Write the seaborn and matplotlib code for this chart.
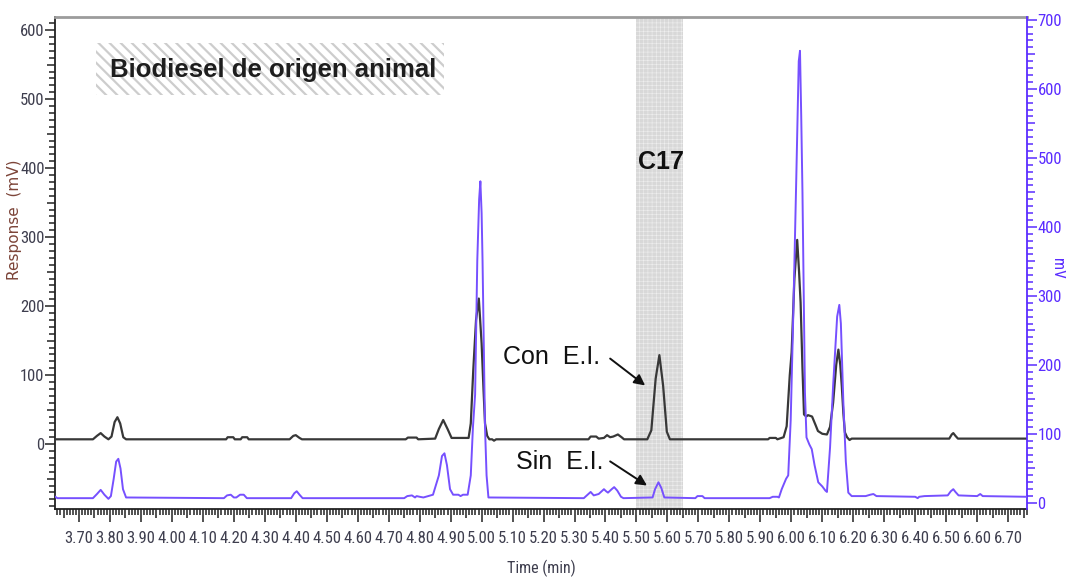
import numpy as np
import pandas as pd
import matplotlib
matplotlib.use("Agg")
import matplotlib.pyplot as plt
from matplotlib import font_manager
from matplotlib.font_manager import FontProperties
from matplotlib.ticker import MultipleLocator, FixedLocator, FixedFormatter
from matplotlib.patches import Rectangle
import seaborn as sns

# --- chromatogram with internal standard (left axis, Response mV) ---
con_time = [3.620, 3.745, 3.758, 3.770, 3.782, 3.795, 3.805, 3.815, 3.824, 3.833, 3.843, 3.852,
            4.175, 4.180, 4.198, 4.203, 4.222, 4.227, 4.243, 4.248,
            4.380, 4.392, 4.400, 4.412, 4.420,
            4.755, 4.762, 4.790, 4.795,
            4.850, 4.862, 4.876, 4.890, 4.903,
            4.958, 4.965, 4.973, 4.982, 4.991, 5.000, 5.006, 5.011, 5.018, 5.025,
            5.034, 5.040, 5.047,
            5.345, 5.352, 5.370, 5.378, 5.395, 5.405, 5.415, 5.425, 5.440, 5.452, 5.460,
            5.535, 5.548, 5.562, 5.574, 5.586, 5.598, 5.608,
            5.925, 5.930, 5.950, 5.955,
            5.975, 5.985, 5.995, 6.001, 6.010, 6.019, 6.025, 6.030, 6.036, 6.041, 6.048,
            6.054, 6.067, 6.078, 6.086, 6.100, 6.115, 6.125, 6.135, 6.145, 6.152, 6.158,
            6.163, 6.168, 6.173, 6.180, 6.188, 6.195,
            6.510, 6.518, 6.523, 6.530, 6.538, 6.760]
con_resp = [7, 7, 12, 16, 11, 7, 11, 32, 39, 30, 10, 7,
            7, 10, 10, 7, 7, 10, 10, 7,
            7, 12, 13, 9, 7,
            7, 9.5, 9.5, 7,
            8, 22, 35, 22, 9,
            9, 30, 107, 180, 211, 146, 80, 30, 12, 7,
            7, 5, 7,
            7, 11, 11, 8, 9, 13, 10, 11, 14, 10, 7,
            7, 20, 95, 129, 85, 18, 7,
            7, 9, 9, 7,
            10, 26, 100, 133, 240, 296, 250, 205, 110, 43, 40,
            42, 40, 28, 19, 15, 14, 25, 60, 115, 137, 115,
            84, 45, 17, 10, 6, 8,
            8, 14, 16, 12, 8, 8]

# --- chromatogram without internal standard (right axis, mV) ---
sin_time = [3.620, 3.630, 3.745, 3.758, 3.770, 3.782, 3.795, 3.803, 3.812, 3.820, 3.827, 3.834, 3.842, 3.852,
            4.168, 4.178, 4.190, 4.200, 4.208, 4.220, 4.232, 4.242,
            4.385, 4.395, 4.403, 4.412, 4.422,
            4.750, 4.760, 4.775, 4.785, 4.790, 4.800, 4.812,
            4.843, 4.862, 4.872, 4.880, 4.888, 4.898, 4.908, 4.925, 4.932, 4.940, 4.955,
            4.965, 4.972, 4.979, 4.986, 4.992, 4.996, 5.000, 5.003, 5.008, 5.011, 5.016, 5.022,
            5.330, 5.342, 5.352, 5.362, 5.378, 5.395, 5.402, 5.408, 5.420, 5.428, 5.438, 5.450, 5.458,
            5.552, 5.560, 5.571, 5.580, 5.590,
            5.690, 5.697, 5.713, 5.720,
            5.930, 5.940, 5.955, 5.960, 5.969, 5.983, 5.990, 5.998, 6.006, 6.016, 6.024, 6.028,
            6.032, 6.036, 6.040, 6.044, 6.049, 6.058, 6.066, 6.075, 6.087, 6.100, 6.110, 6.115,
            6.125, 6.135, 6.148, 6.155, 6.160, 6.168, 6.176, 6.184, 6.195,
            6.240, 6.255, 6.265, 6.275, 6.400, 6.408, 6.413, 6.430,
            6.505, 6.515, 6.523, 6.530, 6.540, 6.600, 6.610, 6.618, 6.760]
sin_resp = [10, 7, 7, 13, 19, 12, 6, 10, 35, 60, 64, 50, 20, 8,
            7, 11, 12, 8, 8, 12, 12, 7,
            7, 14, 17, 12, 7,
            7, 10, 11, 8, 10, 9, 8,
            12, 40, 68, 72, 55, 20, 12, 12, 10, 12, 12,
            40, 110, 157, 351, 440, 466, 420, 351, 200, 109, 40, 8,
            7, 12, 16, 11, 13, 20, 17, 15, 20, 23, 18, 9, 7,
            8, 20, 30, 22, 8,
            7, 10, 10, 7,
            7, 9, 9, 8, 20, 35, 40, 120, 267, 470, 640, 655,
            560, 450, 300, 160, 95, 85, 78, 55, 30, 24, 18, 16,
            80, 170, 270, 287, 260, 146, 60, 15, 10,
            10, 12, 13, 10, 9, 7, 9, 10,
            11, 17, 20, 16, 11, 10, 13, 10, 9]

left_ticks = [0, 100, 200, 300, 400, 500, 600]
right_ticks = [0, 100, 200, 300, 400, 500, 600, 700]
time_ticks = [3.70, 3.80, 3.90, 4.00, 4.10, 4.20, 4.30, 4.40, 4.50, 4.60, 4.70, 4.80, 4.90, 5.00,
              5.10, 5.20, 5.30, 5.40, 5.50, 5.60, 5.70, 5.80, 5.90, 6.00, 6.10, 6.20, 6.30, 6.40,
              6.50, 6.60, 6.70]
time_labels = ["3.70", "3.80", "3.90", "4.00", "4.10", "4.20", "4.30", "4.40", "4.50", "4.60",
               "4.70", "4.80", "4.90", "5.00", "5.10", "5.20", "5.30", "5.40", "5.50", "5.60",
               "5.70", "5.80", "5.90", "6.00", "6.10", "6.20", "6.30", "6.40", "6.50", "6.60",
               "6.70"]

BLACK = "#383838"
BLUE_LINE = "#7650ff"
BLUE_AXIS = "#5a2cff"
TICK_TXT = "#3e3e4e"


def narrow_font(size):
    """Pick a condensed sans face if one is installed, else plain Liberation Sans."""
    wanted = ("narrow", "condensed")
    cands = []
    for f in font_manager.fontManager.ttflist:
        name = (f.name + " " + f.fname).lower()
        if any(w in name for w in wanted) and f.weight in (400, "normal", "regular", "book") \
                and f.style == "normal" and "bold" not in f.fname.lower():
            cands.append(f)
    order = ["liberation sans narrow", "roboto condensed", "open sans condensed",
             "noto sans condensed", "dejavu sans condensed"]
    def rank(f):
        s = (f.name + " " + f.fname).lower()
        for i, key in enumerate(order):
            if key.replace(" ", "") in s.replace(" ", "") or key in s:
                return i
        return len(order)
    if cands:
        best = sorted(cands, key=rank)[0]
        return FontProperties(fname=best.fname, size=size), True
    return FontProperties(family=["Liberation Sans", "DejaVu Sans"], size=size - 1), False


sns.set_theme(style="white")
plt.rcParams["font.family"] = ["Liberation Sans", "DejaVu Sans"]

W, H = 1066, 578
fig = plt.figure(figsize=(W / 100, H / 100), dpi=100)
L, R, T, B = 55, 1027, 17, 509
ax = fig.add_axes([L / W, 1 - B / H, (R - L) / W, (B - T) / H])
ax2 = ax.twinx()

df_con = pd.DataFrame({"time": con_time, "mV": con_resp})
df_sin = pd.DataFrame({"time": sin_time, "mV": sin_resp})

# shaded window for the C17 internal standard
band = ax.axvspan(5.50, 5.65, facecolor="#d8d8d8", edgecolor="#efefef", hatch="++++",
                  linewidth=0, zorder=0)
if hasattr(band, "set_hatch_linewidth"):
    band.set_hatch_linewidth(0.4)

sns.lineplot(data=df_con, x="time", y="mV", ax=ax, color=BLACK, linewidth=1.6,
             estimator=None, sort=False, zorder=3)
sns.lineplot(data=df_sin, x="time", y="mV", ax=ax2, color=BLUE_LINE, linewidth=1.4,
             estimator=None, sort=False, zorder=3)

ax.set_xlim(3.6225, 6.761)
ax.set_ylim(-94, 619)
ax2.set_ylim(-8.7, 704)

for a in (ax, ax2):
    a.set_xlabel("")
    a.set_ylabel("")
    a.grid(False)

# spines
ax.spines["top"].set_color("#9c9c9c")
ax.spines["top"].set_linewidth(2.0)
ax.spines["left"].set_color("#222222")
ax.spines["left"].set_linewidth(1.3)
ax.spines["bottom"].set_color("#222222")
ax.spines["bottom"].set_linewidth(1.3)
ax.spines["right"].set_visible(False)
for s in ("top", "left", "bottom"):
    ax2.spines[s].set_visible(False)
ax2.spines["right"].set_color(BLUE_AXIS)
ax2.spines["right"].set_linewidth(1.3)

# left axis ticks
ax.yaxis.set_major_locator(FixedLocator(left_ticks))
ax.yaxis.set_major_formatter(FixedFormatter([str(v) for v in left_ticks]))
ax.yaxis.set_minor_locator(MultipleLocator(10))
ax.tick_params(axis="y", which="major", direction="out", length=7, width=1.1,
               color="#222222", labelcolor=TICK_TXT, pad=0.5, left=True)
ax.tick_params(axis="y", which="minor", direction="out", length=4, width=1.1,
               color="#222222", left=True)

# right axis ticks
ax2.yaxis.set_major_locator(FixedLocator(right_ticks))
ax2.yaxis.set_major_formatter(FixedFormatter([str(v) for v in right_ticks]))
ax2.yaxis.set_minor_locator(MultipleLocator(10))
ax2.tick_params(axis="y", which="major", direction="out", length=7, width=1.1,
                color=BLUE_AXIS, labelcolor=BLUE_AXIS, pad=0.5, right=True)
ax2.tick_params(axis="y", which="minor", direction="out", length=4, width=1.1,
                color=BLUE_AXIS, right=True)

# time axis ticks
ax.xaxis.set_major_locator(FixedLocator(time_ticks))
ax.xaxis.set_major_formatter(FixedFormatter(time_labels))
ax.xaxis.set_minor_locator(MultipleLocator(0.01))
ax.tick_params(axis="x", which="major", direction="out", length=9, width=1.1,
               color="#222222", labelcolor=TICK_TXT, pad=7, bottom=True)
ax.tick_params(axis="x", which="minor", direction="out", length=4, width=1.1,
               color="#222222", bottom=True)

tick_fp, is_narrow = narrow_font(12)
for lab in ax.get_xticklabels() + ax.get_yticklabels() + ax2.get_yticklabels():
    lab.set_fontproperties(tick_fp)

# medium-length ticks at the half steps
for loc, tick in zip(ax.yaxis.get_minorticklocs(), ax.yaxis.get_minor_ticks()):
    if int(round(loc)) % 50 == 0:
        tick.tick1line.set_markersize(6)
for loc, tick in zip(ax2.yaxis.get_minorticklocs(), ax2.yaxis.get_minor_ticks()):
    if int(round(loc)) % 50 == 0:
        tick.tick2line.set_markersize(6)
for loc, tick in zip(ax.xaxis.get_minorticklocs(), ax.xaxis.get_minor_ticks()):
    if int(round(loc * 100)) % 5 == 0:
        tick.tick1line.set_markersize(6.5)

# title box with diagonal stripes
box = Rectangle((0.0422, 0.8415), 0.358, 0.1055, transform=ax.transAxes,
                facecolor="white", edgecolor="#cdcdcd", hatch="\\\\\\", linewidth=0, zorder=1)
if hasattr(box, "set_hatch_linewidth"):
    box.set_hatch_linewidth(1.6)
ax.add_patch(box)
ax.text(0.0566, 0.892, "Biodiesel de origen animal", transform=ax.transAxes,
        ha="left", va="center", fontsize=18.5, fontweight="bold", color="#1e1e1e", zorder=5)

# annotations
ax.text(5.579, 409, "C17", ha="center", va="center", fontsize=18, fontweight="bold",
        color="#111111", zorder=5)
ax.text(5.227, 126, "Con  E.I.", ha="center", va="center", fontsize=18, color="#111111", zorder=5)
ax.text(5.253, -26, "Sin  E.I.", ha="center", va="center", fontsize=18, color="#111111", zorder=5)
arrow = dict(arrowstyle="-|>", color="#111111", lw=1.4, mutation_scale=16, shrinkA=0, shrinkB=0)
ax.annotate("", xy=(5.528, 85), xytext=(5.415, 124), arrowprops=arrow, zorder=5)
ax.annotate("", xy=(5.534, -60), xytext=(5.415, -25), arrowprops=arrow, zorder=5)

# axis titles
fig.text(14 / W, 1 - 220 / H, "Response  (mV)", rotation=90, ha="center", va="center",
         fontsize=11, color="#7c4438", family=["DejaVu Sans"])
label_fp = tick_fp.copy()
label_fp.set_size(11.5)
fig.text(541 / W, 1 - 568 / H, "Time (min)", ha="center", va="center",
         color=TICK_TXT, fontproperties=label_fp)
fig.text(1058 / W, 1 - 268 / H, "mV", rotation=270, ha="center", va="center",
         color=BLUE_AXIS, fontproperties=label_fp)

fig.savefig("out.png", dpi=100)
